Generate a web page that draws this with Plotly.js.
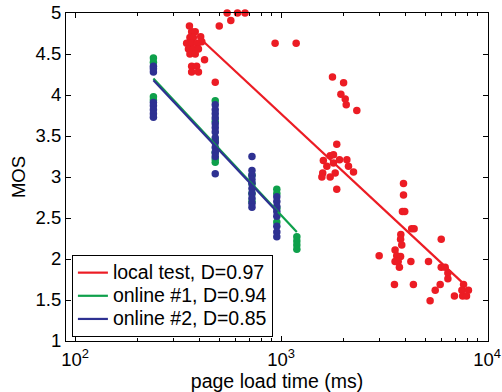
<!DOCTYPE html>
<html>
<head>
<meta charset="utf-8">
<script src="https://cdn.plot.ly/plotly-3.0.1.min.js"></script>
<style>html,body{margin:0;padding:0;background:#fff;}#chart{width:502px;height:392px;}</style>
</head>
<body>
<div id="chart"></div>
<script>
// local test points (page load time ms, MOS)
var localX = [547,570,614,668,501,359,
  368,383,361,375,407,412,348,368,393,355,375,397,361,383,425,368,389,368,397,
  935,1183,479,
  1775,2010,1950,2047,2070,2330,1862,
  1603,1730,1795,1667,1795,1920,2085,2123,2246,1592,1577,1730,1830,1862,
  3926,3926,3880,3980,
  4300,4420,3810,3800,3850,3573,3640,3800,3573,3700,3750,2991,4263,5191,5985,5985,6254,6446,6446,
  3548,4385,5916,5597,5286,7680,7540,8110,6935,7600,7940];
var localY = [5.0,4.91,5.0,5.0,4.84,4.84,
  4.77,4.77,4.70,4.70,4.71,4.65,4.63,4.63,4.63,4.56,4.56,4.56,4.50,4.50,4.43,4.35,4.35,4.28,4.28,
  4.63,4.63,4.155,
  4.22,4.15,4.01,3.95,3.88,3.81,3.40,
  3.20,3.26,3.27,3.13,3.17,3.21,3.21,3.13,3.06,3.05,3.00,3.00,3.05,2.85,
  2.92,2.78,2.58,2.58,
  2.37,2.37,2.30,2.24,2.17,2.11,2.04,2.03,1.97,1.97,1.90,2.04,1.97,1.97,2.24,1.90,1.90,1.83,1.76,
  1.69,1.69,1.69,1.62,1.49,1.69,1.62,1.62,1.55,1.55,1.55];

// online #1 points
var on1X = [240,240,240,240,
  479,479,479,479,479,479,
  722,722,722,722,
  953,953,953,953,
  1192,1192,1192,1192];
var on1Y = [4.45,4.40,3.98,3.94,
  3.93,3.68,3.45,3.30,3.22,3.18,
  3.02,2.92,2.80,2.70,
  2.85,2.80,2.62,2.45,
  2.27,2.22,2.17,2.12];

// online #2 points
var on2X = [240,240,240,240,240,240,240,240,
  479,479,479,479,479,479,479,479,479,479,479,479,479,
  722,722,722,722,722,722,722,722,722,722,
  953,953,953,953,953,953,953,953];
var on2Y = [4.35,4.32,4.28,3.91,3.87,3.82,3.77,3.73,
  3.88,3.82,3.77,3.72,3.65,3.60,3.55,3.48,3.42,3.36,3.30,3.25,3.04,
  3.25,3.08,3.02,2.97,2.92,2.86,2.80,2.74,2.68,2.63,
  2.76,2.70,2.64,2.58,2.52,2.40,2.33,2.27];

// fitted lines (endpoints)
var fitLocalX = [412, 7680], fitLocalY = [4.67, 1.70];
var fitOn1X = [240, 1192], fitOn1Y = [4.20, 2.33];
var fitOn2X = [240, 960], fitOn2Y = [4.18, 2.57];

var legendNames = ['local test, D=0.97', 'online #1, D=0.94', 'online #2, D=0.85'];
var xTickVals = [100, 1000, 10000];
var xTickText = ['10<sup>2</sup>', '10<sup>3</sup>', '10<sup>4</sup>'];

var RED = '#EC1C24', GREEN = '#0EA04B', BLUE = '#2E3192';
var MS = 7.5;

function big(s) { return '<span style="font-size:19.5px">' + s + '</span>'; }

var traces = [
  {x: localX, y: localY, mode: 'markers', type: 'scatter', showlegend: false,
   marker: {color: RED, size: MS}, cliponaxis: false},
  {x: on1X, y: on1Y, mode: 'markers', type: 'scatter', showlegend: false,
   marker: {color: GREEN, size: MS}, cliponaxis: false},
  {x: on2X, y: on2Y, mode: 'markers', type: 'scatter', showlegend: false,
   marker: {color: BLUE, size: MS}, cliponaxis: false},
  {x: fitLocalX, y: fitLocalY, mode: 'lines', type: 'scatter', name: big(legendNames[0]),
   line: {color: RED, width: 2.2}},
  {x: fitOn1X, y: fitOn1Y, mode: 'lines', type: 'scatter', name: big(legendNames[1]),
   line: {color: GREEN, width: 2.2}},
  {x: fitOn2X, y: fitOn2Y, mode: 'lines', type: 'scatter', name: big(legendNames[2]),
   line: {color: BLUE, width: 2.2}}
];

var FONT = 'Liberation Sans, Arial, Helvetica, sans-serif';

var layout = {
  width: 502, height: 392,
  margin: {l: 66, r: 14, t: 13, b: 51, pad: 0},
  paper_bgcolor: '#fff', plot_bgcolor: '#fff',
  font: {family: FONT, size: 18.5, color: '#000'},
  showlegend: true,
  legend: {x: 0.014, y: 0.012, xanchor: 'left', yanchor: 'bottom',
    bgcolor: '#fff', bordercolor: '#000', borderwidth: 1,
    font: {family: FONT, size: 15.5, color: '#000'},
    traceorder: 'normal', tracegroupgap: 0, itemwidth: 30},
  xaxis: {
    type: 'log', range: [1.956, 4.004],
    tickvals: xTickVals, ticktext: xTickText,
    ticks: 'inside', ticklen: 5, tickcolor: '#000', tickwidth: 1,
    showline: true, linecolor: '#000', linewidth: 1, mirror: 'ticks',
    showgrid: false, zeroline: false,
    minor: {ticks: 'inside', ticklen: 3, tickcolor: '#000', dtick: 'D1', showgrid: false},
    tickfont: {size: 18.5}, ticklabelstandoff: 2,
    title: {text: 'page load time (ms)', font: {size: 19.5}, standoff: 0}
  },
  yaxis: {
    range: [1, 5], dtick: 0.5, tick0: 1,
    ticks: 'inside', ticklen: 5, tickcolor: '#000', tickwidth: 1,
    showline: true, linecolor: '#000', linewidth: 1, mirror: 'ticks',
    showgrid: false, zeroline: false,
    tickfont: {size: 18.5},
    title: {text: 'MOS', font: {size: 18.5}, standoff: 5}
  }
};

Plotly.newPlot('chart', traces, layout, {displayModeBar: false, staticPlot: true});
</script>
</body>
</html>
